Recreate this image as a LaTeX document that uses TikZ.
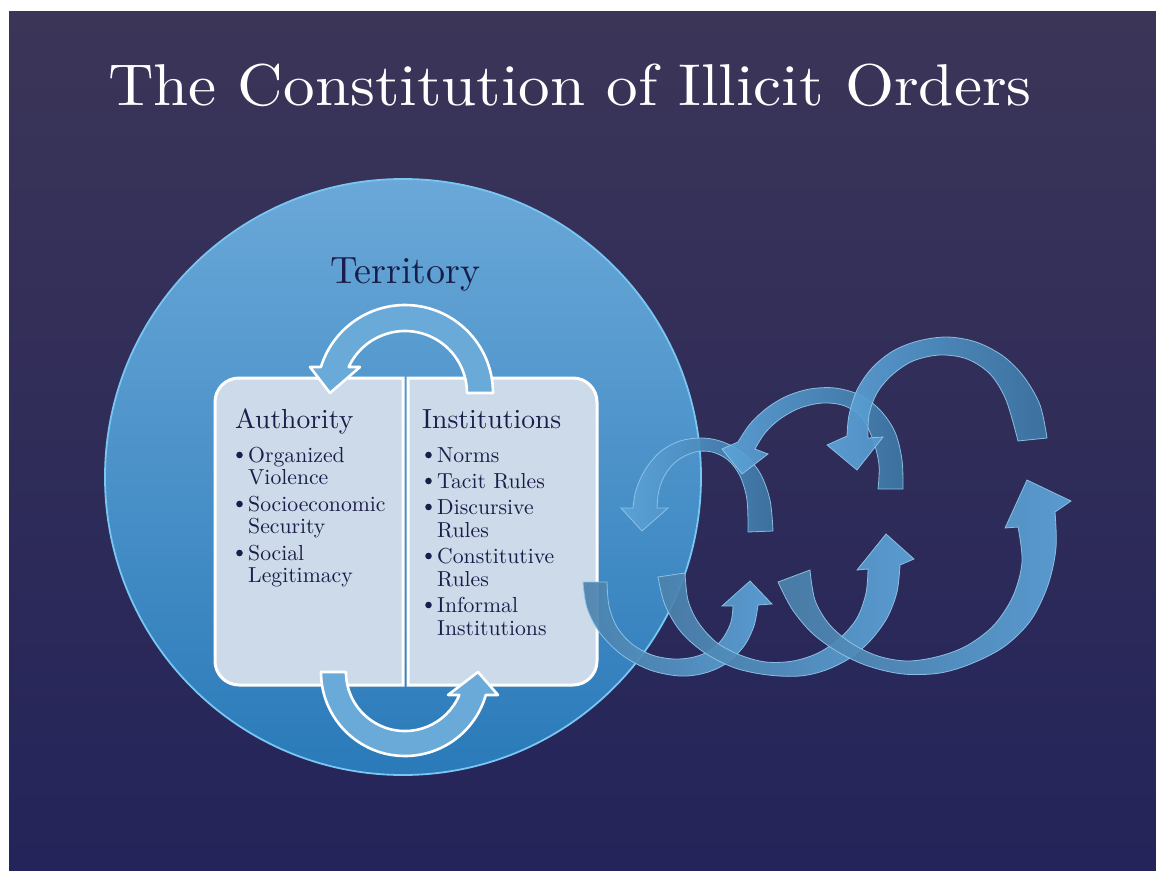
\documentclass[tikz,border=0pt]{standalone}
\usepackage{fontspec}
\setmainfont{lmroman10-regular.otf}
\begin{document}
\definecolor{slidetop}{HTML}{3B3558}
\definecolor{slidebottom}{HTML}{24245A}
\definecolor{circtop}{HTML}{6AA8D8}
\definecolor{circbottom}{HTML}{2A7AB9}
\definecolor{circrim}{HTML}{79C6F2}
\definecolor{boxfill}{HTML}{CDDAE9}
\definecolor{ink}{HTML}{1A1D4A}
\definecolor{cyclefill}{HTML}{6AAAD9}
\definecolor{riblight}{HTML}{5DA4DA}
\definecolor{ribdark}{HTML}{3E77A5}
\definecolor{ribgrey}{HTML}{4C82AC}
\definecolor{ribedge}{HTML}{93C7EA}
\begin{tikzpicture}[x=1pt,y=-1pt,
  heading/.style={anchor=base west, inner sep=0pt, text=ink, font=\fontsize{27.6}{32}\selectfont},
  item/.style={anchor=base west, inner sep=0pt, text=ink, font=\fontsize{21.7}{26}\selectfont},
  dot/.style={circle, fill=ink, inner sep=0pt, minimum size=6.6pt},
  panel/.style={fill=boxfill, draw=white, line width=3pt},
  cyclearrow/.style={fill=cyclefill, draw=white, line width=2.6pt, line join=round},
  ribbonback/.style={left color=riblight, right color=ribdark, draw=ribedge, line width=0.8pt, fill opacity=0.92, draw opacity=0.9},
  ribbonfront/.style={left color=ribgrey, right color=riblight, draw=ribedge, line width=0.8pt, fill opacity=0.92, draw opacity=0.9},
  smoothedge/.style={smooth, tension=0.55}]
\useasboundingbox (0,0) rectangle (1156,870);
\fill[white] (0,0) rectangle (1156,870);
% slide background
\shade[top color=slidetop, bottom color=slidebottom] (9,11) rectangle (1156,870);

% title
\node[anchor=base west, inner sep=0pt, text=white, font=\fontsize{59}{62}\selectfont] (title) at (108,105) {\scalebox{1.07}[1]{The Constitution of Illicit Orders}};

% territory disc
\shade[top color=circtop, bottom color=circbottom] (403,477) circle (298);
\draw[circrim, line width=1.8pt] (403,477) circle (298);
\node[anchor=base west, inner sep=0pt, text=ink, font=\fontsize{38}{42}\selectfont] (territory) at (330,283) {Territory};

% two panels
\path[panel] (403,378) -- (239,378) arc[start angle=-90, end angle=-180, radius=24]
  -- (215,661) arc[start angle=180, end angle=90, radius=24] -- (403,685) -- cycle;
\path[panel] (408,378) -- (573,378) arc[start angle=-90, end angle=0, radius=24]
  -- (597,661) arc[start angle=0, end angle=90, radius=24] -- (408,685) -- cycle;

% left panel text
\node[heading] (authority) at (235,428) {Authority};
\node[dot] (ba1) at (239.5,455) {};
\node[item] (a1) at (248,462) {Organized};
\node[item] (a1b) at (248,484) {Violence};
\node[dot] (ba2) at (239.5,504) {};
\node[item] (a2) at (248,511) {Socioeconomic};
\node[item] (a2b) at (248,533) {Security};
\node[dot] (ba3) at (239.5,553) {};
\node[item] (a3) at (248,560) {Social};
\node[item] (a3b) at (248,582) {Legitimacy};

% right panel text
\node[heading] (institutions) at (422,428) {Institutions};
\node[dot] (bi1) at (428.5,455) {};
\node[item] (i1) at (437,462) {Norms};
\node[dot] (bi2) at (428.5,481) {};
\node[item] (i2) at (437,488) {Tacit Rules};
\node[dot] (bi3) at (428.5,507) {};
\node[item] (i3) at (437,514) {Discursive};
\node[item] (i3b) at (437,537) {Rules};
\node[dot] (bi4) at (428.5,556) {};
\node[item] (i4) at (437,563) {Constitutive};
\node[item] (i4b) at (437,586) {Rules};
\node[dot] (bi5) at (428.5,605) {};
\node[item] (i5) at (437,612) {Informal};
\node[item] (i5b) at (437,635) {Institutions};

% cycle arrows between the panels
\path[cyclearrow] (493,393) arc[start angle=0, end angle=-162.8, radius=88]
  -- (310,367) -- (330,393) -- (360,367) -- (348.7,367)
  arc[start angle=-155.2, end angle=0, radius=62] -- cycle;
\path[cyclearrow] (321,672) arc[start angle=180, end angle=15.9, radius=84]
  -- (498,695) -- (478,672) -- (448,695) -- (459.3,695)
  arc[start angle=22.9, end angle=180, radius=59] -- cycle;

% spiral ribbon: back loops
\path[ribbonback] plot[smoothedge] coordinates {(773,531) (770,500) (760,473) (743,453) (723,442) (703,438) (680,441) (660,452) (645,470) (636,490) (633,508)}
  -- (621,508) -- (642,531) -- (668,508)
  -- plot[smoothedge] coordinates {(657,508) (659,490) (666,473) (678,460) (695,452) (712,452) (728,460) (740,476) (747,500) (748,532)} -- cycle;
\path[ribbonback] plot[smoothedge] coordinates {(903,489) (902,460) (895,432) (880,410) (860,395) (835,388) (810,389) (787,396) (767,408) (750,424) (738,442)}
  -- (722,449) -- (742,474) -- (768,454)
  -- plot[smoothedge] coordinates {(755,449) (765,433) (780,419) (800,408) (823,403) (845,406) (862,418) (873,440) (879,465) (878,489)} -- cycle;
\path[ribbonback] plot[smoothedge] coordinates {(1047,438) (1040,405) (1024,377) (1003,356) (976,342) (947,337) (918,341) (893,351) (872,368) (857,390) (849,415) (847,436)}
  -- (827,445) -- (857,470) -- (883,437)
  -- plot[smoothedge] coordinates {(868,438) (869,415) (877,393) (892,375) (913,361) (940,355) (967,359) (990,374) (1006,400) (1018,441)} -- cycle;

% spiral ribbon: front loops
\path[ribbonfront] plot[smoothedge] coordinates {(583,582) (587,608) (600,633) (622,655) (650,670) (680,676) (705,673) (727,663) (744,646) (754,626) (758,605)}
  -- (772,604) -- (750,581) -- (722,606)
  -- plot[smoothedge] coordinates {(733,606) (731,622) (723,638) (711,650) (694,657) (674,659) (652,655) (632,644) (617,627) (609,606) (607,582)} -- cycle;
\path[ribbonfront] plot[smoothedge] coordinates {(658,577) (665,605) (681,632) (705,653) (735,668) (768,675) (800,676) (826,670) (850,658) (870,641) (887,618) (897,592) (900,565)}
  -- (914,559) -- (886,534) -- (857,570)
  -- plot[smoothedge] coordinates {(868,569) (866,593) (857,618) (840,638) (818,653) (793,661) (766,662) (740,655) (716,642) (698,622) (688,600) (685,573)} -- cycle;
\path[ribbonfront] plot[smoothedge] coordinates {(778,582) (792,609) (812,633) (838,652) (868,666) (903,674) (940,673) (973,663) (1005,646) (1031,620) (1048,585) (1056,548) (1055,512)}
  -- (1071,501) -- (1027,480) -- (1005,528)
  -- plot[smoothedge] coordinates {(1018,527) (1022,562) (1013,596) (994,625) (968,645) (940,656) (908,661) (878,656) (851,643) (829,624) (815,600) (810,570)} -- cycle;
\end{tikzpicture}
\end{document}
